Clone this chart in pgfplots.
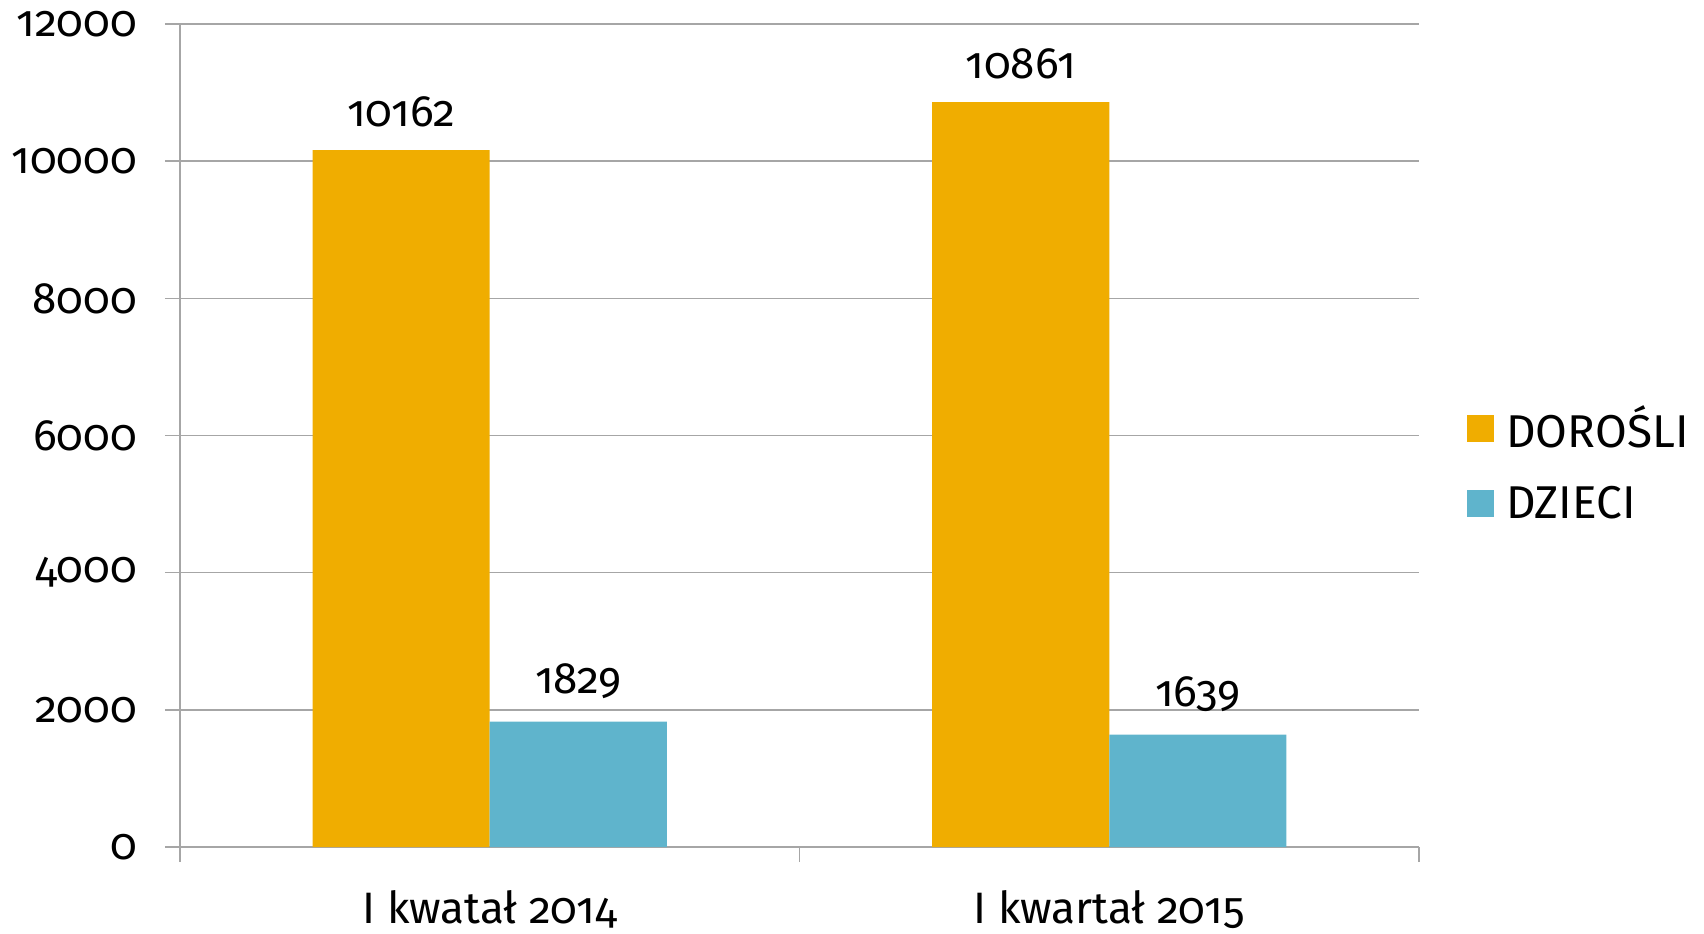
\documentclass[border=0pt]{standalone}
\usepackage{fontspec}
\setmainfont{Fira Sans}[Numbers=OldStyle]
\usepackage{pgfplots}
\pgfplotsset{compat=1.18}
\definecolor{dor}{HTML}{F0AD00}
\definecolor{dzi}{HTML}{5FB4CC}
\definecolor{gridc}{HTML}{A6A6A6}
\newcommand{\fs}{\fontsize{22}{27}\selectfont}
\begin{document}
\begin{tikzpicture}[font=\fs]
\begin{axis}[
  scale only axis,
  width=619.5pt, height=411.5pt,
  at={(0,0)}, anchor=south west,
  xmin=-0.5, xmax=1.5, ymin=0, ymax=12000,
  ybar=0pt, bar width=0.286,
  axis x line=bottom, axis y line=left,
  axis line style={gridc, line width=0.75pt, -},
  ytick={0,2000,4000,6000,8000,10000,12000},
  ymajorgrids, grid style={gridc, line width=0.75pt},
  tick align=outside, major tick length=7.5pt,
  tick style={gridc, line width=0.75pt},
  xtick={-0.5,0.5,1.5}, xticklabels={},
  extra x ticks={0,1},
  extra x tick labels={I kwatał 2014, I kwartał 2015},
  extra x tick style={major tick length=0pt, grid=none},
  scaled y ticks=false,
  /pgf/number format/1000 sep={},
  /pgf/number format/assume math mode=true,
  ticklabel style={font=\fs, text=black},
  yticklabel style={xshift=-10.5pt},
  xticklabel style={yshift=-18pt},
  nodes near coords,
  every node near coord/.append style={font=\fs, text=black, yshift=8pt},
  legend style={at={(1.0387,0.4660)}, anchor=west, draw=none, fill=none,
    inner sep=0pt, font=\fontsize{23}{28}\selectfont, row sep=13.5pt, column sep=4pt},
  legend cell align=left,
  legend image code/.code={\fill[#1] (0pt,-6.75pt) rectangle (13.5pt,6.75pt);},
]
\addplot[draw=none, fill=dor] coordinates {(0,10162) (1,10861)};
\addplot[draw=none, fill=dzi] coordinates {(0,1829) (1,1639)};
\legend{DOROŚLI, DZIECI}
\end{axis}
\pgfresetboundingbox
\path[use as bounding box] (-90pt,-43pt) rectangle (762pt,423.5pt);
\end{tikzpicture}
\end{document}
